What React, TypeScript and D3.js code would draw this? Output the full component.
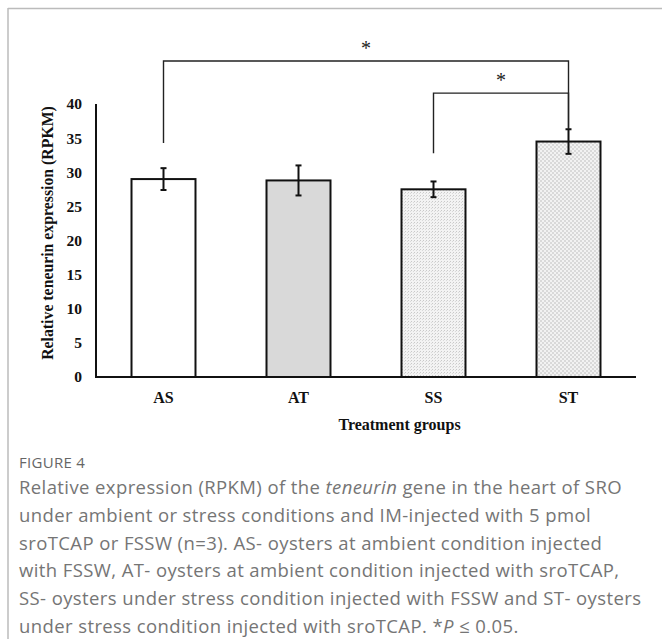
import React from "react"
import * as d3 from "d3"

// values
const groups = ["AS", "AT", "SS", "ST"]
const means = [29.0, 28.8, 27.5, 34.5]
const errors = [1.6, 2.2, 1.15, 1.8]
const yTicks = [0, 5, 10, 15, 20, 25, 30, 35, 40]

const captionLines = [
  ["Relative expression (RPKM) of the ", "teneurin", " gene in the heart of SRO"],
  ["under ambient or stress conditions and IM-injected with 5 pmol"],
  ["sroTCAP or FSSW (n=3). AS- oysters at ambient condition injected"],
  ["with FSSW, AT- oysters at ambient condition injected with sroTCAP,"],
  ["SS- oysters under stress condition injected with FSSW and ST- oysters"],
  ["under stress condition injected with sroTCAP. *", "P", " \u2264 0.05."],
]

const W = 662
const H = 639
const serif = "'Liberation Serif', 'Times New Roman', serif"
const sans = "'Open Sans', 'Noto Sans', sans-serif"

const fills = ["#ffffff", "#d9d9d9", "url(#dots)", "url(#checks)"]

const App = () => {
  const x = d3
    .scaleBand()
    .domain(groups)
    .range([96, 636])
    .paddingInner(0.526)
    .paddingOuter(0.263)

  const y = d3.scaleLinear().domain([0, 40]).range([377, 104])

  const cx = (g) => x(g) + x.bandwidth() / 2

  // significance brackets (levels in data units)
  const brackets = [
    { from: "AS", to: "ST", level: 46.3, legFrom: 34.3, legTo: means[3] + errors[3] },
    { from: "SS", to: "ST", level: 41.6, legFrom: 32.8, legTo: means[3] + errors[3] },
  ]

  return (
    <svg
      width={W}
      height={H}
      style={{ position: "absolute", left: 0, top: 0, background: "#fff" }}
    >
      <defs>
        <pattern id="dots" width="3" height="3" patternUnits="userSpaceOnUse">
          <rect width="3" height="3" fill="#f3f3f3" />
          <rect x="0" y="0" width="1" height="1" fill="#c9c9c9" />
          <rect x="2" y="1" width="1" height="1" fill="#dadada" />
        </pattern>
        <pattern id="checks" width="4" height="4" patternUnits="userSpaceOnUse">
          <rect width="4" height="4" fill="#f2f2f2" />
          <rect x="0" y="0" width="2" height="2" fill="#d9d9d9" />
          <rect x="2" y="2" width="2" height="2" fill="#d9d9d9" />
        </pattern>
      </defs>

      {/* figure frame */}
      <line x1={8} x2={W} y1={8.5} y2={8.5} stroke="#bbb" strokeWidth={1.5} />
      <line x1={8} x2={8} y1={8} y2={H} stroke="#bbb" strokeWidth={1.5} />

      {/* y ticks */}
      {yTicks.map((t) => (
        <text
          key={t}
          x={82}
          y={y(t)}
          dy="0.35em"
          textAnchor="end"
          fontFamily={serif}
          fontWeight="bold"
          fontSize={15.5}
          fill="#111"
        >
          {t}
        </text>
      ))}

      <text
        transform={`translate(53, 233) rotate(-90)`}
        textAnchor="middle"
        fontFamily={serif}
        fontWeight="bold"
        fontSize={15.8}
        fill="#111"
      >
        Relative teneurin expression (RPKM)
      </text>

      {/* bars */}
      {groups.map((g, i) => (
        <rect
          key={g}
          x={x(g)}
          y={y(means[i])}
          width={x.bandwidth()}
          height={y(0) - y(means[i])}
          fill={fills[i]}
          stroke="#111"
          strokeWidth={2}
        />
      ))}

      {/* error bars */}
      {groups.map((g, i) => (
        <g key={g} stroke="#111" strokeWidth={2}>
          <line x1={cx(g)} x2={cx(g)} y1={y(means[i] + errors[i])} y2={y(means[i] - errors[i])} />
          <line x1={cx(g) - 3} x2={cx(g) + 3} y1={y(means[i] + errors[i])} y2={y(means[i] + errors[i])} />
          <line x1={cx(g) - 3} x2={cx(g) + 3} y1={y(means[i] - errors[i])} y2={y(means[i] - errors[i])} />
        </g>
      ))}

      {/* axes */}
      <line x1={96} x2={96} y1={y(40)} y2={y(0) + 1} stroke="#111" strokeWidth={2} />
      <line x1={95} x2={636} y1={y(0)} y2={y(0)} stroke="#111" strokeWidth={2} />

      {groups.map((g) => (
        <text
          key={g}
          x={cx(g)}
          y={403}
          textAnchor="middle"
          fontFamily={serif}
          fontWeight="bold"
          fontSize={16}
          fill="#111"
        >
          {g}
        </text>
      ))}
      <text
        x={x("AT") + x.step() - 2}
        y={430}
        textAnchor="middle"
        fontFamily={serif}
        fontWeight="bold"
        fontSize={16}
        fill="#111"
      >
        Treatment groups
      </text>

      {/* significance */}
      {brackets.map((b, i) => (
        <g key={i}>
          <path
            d={`M${cx(b.from)},${y(b.legFrom)}V${y(b.level)}H${cx(b.to)}V${y(b.legTo)}`}
            fill="none"
            stroke="#222"
            strokeWidth={1.4}
          />
          <text
            x={(cx(b.from) + cx(b.to)) / 2}
            y={y(b.level) - 6}
            textAnchor="middle"
            fontFamily={serif}
            fontSize={20}
            fill="#222"
          >
            *
          </text>
        </g>
      ))}

      {/* caption */}
      <text x={19} y={468} fontFamily={sans} fontSize={15} letterSpacing={0.3} fill="#666">
        FIGURE 4
      </text>
      {captionLines.map((parts, i) => (
        <text
          key={i}
          x={19}
          y={494 + i * 27.8}
          fontFamily={sans}
          fontSize={18.5}
          letterSpacing={0.4}
          fill="#757575"
        >
          {parts.map((p, j) => (
            <tspan key={j} fontStyle={j === 1 ? "italic" : "normal"}>
              {p}
            </tspan>
          ))}
        </text>
      ))}
    </svg>
  )
}

export default App
